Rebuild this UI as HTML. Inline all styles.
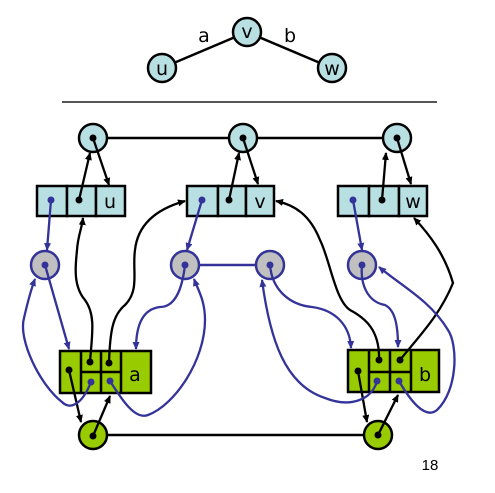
<!DOCTYPE html>
<html><head><meta charset="utf-8"><style>
html,body{margin:0;padding:0;background:#fff;}
svg{display:block;}
text{font-family:"DejaVu Sans","Liberation Sans",sans-serif;}
</style></head><body>
<svg width="495" height="493" viewBox="0 0 495 493" xmlns="http://www.w3.org/2000/svg">
<defs>
<marker id="ak" markerWidth="8" markerHeight="8" refX="7" refY="4" orient="auto" markerUnits="userSpaceOnUse"><path d="M0,0.5 L8,4 L0,7.5 Z" fill="#000"/></marker>
<marker id="ab" markerWidth="8" markerHeight="8" refX="7" refY="4" orient="auto" markerUnits="userSpaceOnUse"><path d="M0,0.5 L8,4 L0,7.5 Z" fill="#333399"/></marker>
</defs>
<!-- top small graph -->
<g stroke="#000" stroke-width="2.5">
<line x1="162" y1="68" x2="247" y2="32"/><line x1="247" y1="32" x2="332" y2="68"/>
</g>
<g fill="#b8e0e3" stroke="#000" stroke-width="2.5">
<circle cx="247" cy="32" r="14"/><circle cx="162" cy="68" r="14"/><circle cx="332" cy="68" r="14"/>
</g>
<g font-size="19" fill="#000" text-anchor="middle">
<text x="247" y="38">v</text><text x="162" y="75">u</text><text x="332" y="75">w</text>
<text x="204" y="42">a</text><text x="290" y="42">b</text>
</g>
<line x1="62" y1="102" x2="437" y2="102" stroke="#555" stroke-width="2"/>

<!-- vertex line -->
<line x1="93" y1="138" x2="397" y2="138" stroke="#000" stroke-width="2.5"/>
<line x1="93" y1="435" x2="378" y2="435" stroke="#000" stroke-width="2.5"/>
<line x1="185" y1="265" x2="270" y2="265" stroke="#333399" stroke-width="2.5"/>

<!-- light blue boxes -->
<g fill="#b8e0e3" stroke="#000" stroke-width="2.5">
<rect x="37" y="186" width="30" height="30"/><rect x="67" y="186" width="29" height="30"/><rect x="96" y="186" width="29" height="30"/>
<rect x="187" y="186" width="31" height="30"/><rect x="218" y="186" width="28" height="30"/><rect x="246" y="186" width="28" height="30"/>
<rect x="338" y="186" width="31" height="30"/><rect x="369" y="186" width="30" height="30"/><rect x="399" y="186" width="28" height="30"/>
</g>
<g font-size="19" fill="#000" text-anchor="middle">
<text x="110" y="208">u</text><text x="260" y="208">v</text><text x="413" y="208">w</text>
</g>

<!-- vertex circles -->
<g fill="#b8e0e3" stroke="#000" stroke-width="2.5">
<circle cx="93" cy="138" r="14"/><circle cx="243" cy="138" r="14"/><circle cx="397" cy="138" r="14"/>
</g>
<!-- gray circles -->
<g fill="#c0c0c0" stroke="#333399" stroke-width="2.5">
<circle cx="45" cy="265" r="14"/><circle cx="185" cy="265" r="14"/><circle cx="270" cy="265" r="14"/><circle cx="362" cy="265" r="14"/>
</g>

<!-- green boxes -->
<g fill="#99cc00" stroke="#000" stroke-width="2.5">
<rect x="60" y="351" width="91" height="42"/>
<line x1="81" y1="351" x2="81" y2="393"/><line x1="101" y1="351" x2="101" y2="393"/><line x1="121" y1="351" x2="121" y2="393"/>
<line x1="81" y1="372" x2="121" y2="372"/>
<rect x="348" y="350" width="91" height="42"/>
<line x1="369" y1="350" x2="369" y2="392"/><line x1="390" y1="350" x2="390" y2="392"/><line x1="411" y1="350" x2="411" y2="392"/>
<line x1="369" y1="372" x2="411" y2="372"/>
<circle cx="93" cy="435" r="14"/><circle cx="378" cy="435" r="14"/>
</g>
<g font-size="19" fill="#000" text-anchor="middle">
<text x="135" y="381">a</text><text x="425" y="381">b</text>
</g>

<!-- black edges -->
<g fill="none" stroke="#000" stroke-width="2.3" marker-end="url(#ak)">
<line x1="79" y1="200" x2="90" y2="153"/><line x1="93" y1="138" x2="109" y2="185"/>
<line x1="229" y1="200" x2="239" y2="153"/><line x1="243" y1="138" x2="258" y2="184"/>
<line x1="382" y1="200" x2="386" y2="153"/><line x1="397" y1="138" x2="411" y2="184"/>
<path d="M90,362 C92,335 96,315 85,300 C72,285 76,262 77,250 C78,235 82,228 83,218"/>
<path d="M109,363 C110,330 113,315 125,305 C140,290 132,270 135,250 C138,222 160,208 185,201"/>
<path d="M379,360 C380,330 365,318 350,310 C335,300 330,260 320,240 C310,215 295,205 276,201"/>
<path d="M400,360 C420,335 440,315 453,283 C445,255 430,235 414,218"/>
<line x1="69" y1="370" x2="81" y2="422"/><line x1="93" y1="436" x2="110" y2="396"/>
<line x1="358" y1="371" x2="367" y2="422"/><line x1="378" y1="435" x2="398" y2="395"/>
</g>

<!-- blue edges -->
<g fill="none" stroke="#333399" stroke-width="2.3" marker-end="url(#ab)">
<line x1="51" y1="200" x2="47" y2="250"/>
<line x1="45" y1="265" x2="69" y2="349"/>
<path d="M91,382 C82,405 70,410 62,402 C40,385 18,340 24,318 C27,305 30,292 35,279"/>
<line x1="202" y1="200" x2="187" y2="250"/>
<path d="M185,265 C182,290 175,307 160,307 C143,309 136,325 136,349"/>
<path d="M110,381 C122,400 135,420 148,415 C175,405 205,360 205,320 C205,300 198,290 194,279"/>
<path d="M270,265 C272,290 290,305 312,307 C335,310 350,325 351,348"/>
<path d="M377,381 C372,400 350,408 325,398 C285,385 270,340 262,280"/>
<line x1="353" y1="200" x2="362" y2="250"/>
<path d="M362,265 C360,285 368,302 385,305 C395,310 398,325 398,347"/>
<path d="M399,381 C410,400 425,420 437,410 C458,390 458,345 448,330 C430,300 400,285 379,267"/>
</g>

<!-- dots -->
<g fill="#000">
<circle cx="93" cy="138" r="3.5"/><circle cx="243" cy="138" r="3.5"/><circle cx="397" cy="138" r="3.5"/>
<circle cx="79" cy="200" r="3.5"/><circle cx="229" cy="200" r="3.5"/><circle cx="382" cy="200" r="3.5"/>
<circle cx="69" cy="370" r="3.5"/><circle cx="90" cy="362" r="3.5"/><circle cx="109" cy="363" r="3.5"/>
<circle cx="358" cy="371" r="3.5"/><circle cx="379" cy="360" r="3.5"/><circle cx="400" cy="360" r="3.5"/>
<circle cx="93" cy="436" r="3.5"/><circle cx="378" cy="435" r="3.5"/>
</g>
<g fill="#333399">
<circle cx="51" cy="200" r="3.5"/><circle cx="202" cy="200" r="3.5"/><circle cx="353" cy="200" r="3.5"/>
<circle cx="45" cy="265" r="3.5"/><circle cx="185" cy="265" r="3.5"/><circle cx="270" cy="265" r="3.5"/><circle cx="362" cy="265" r="3.5"/>
<circle cx="91" cy="382" r="3.5"/><circle cx="110" cy="381" r="3.5"/>
<circle cx="377" cy="381" r="3.5"/><circle cx="399" cy="381" r="3.5"/>
</g>

<text x="430" y="470" font-size="15" fill="#000" text-anchor="middle" style="font-family:'Liberation Sans',sans-serif">18</text>
</svg>
</body></html>
